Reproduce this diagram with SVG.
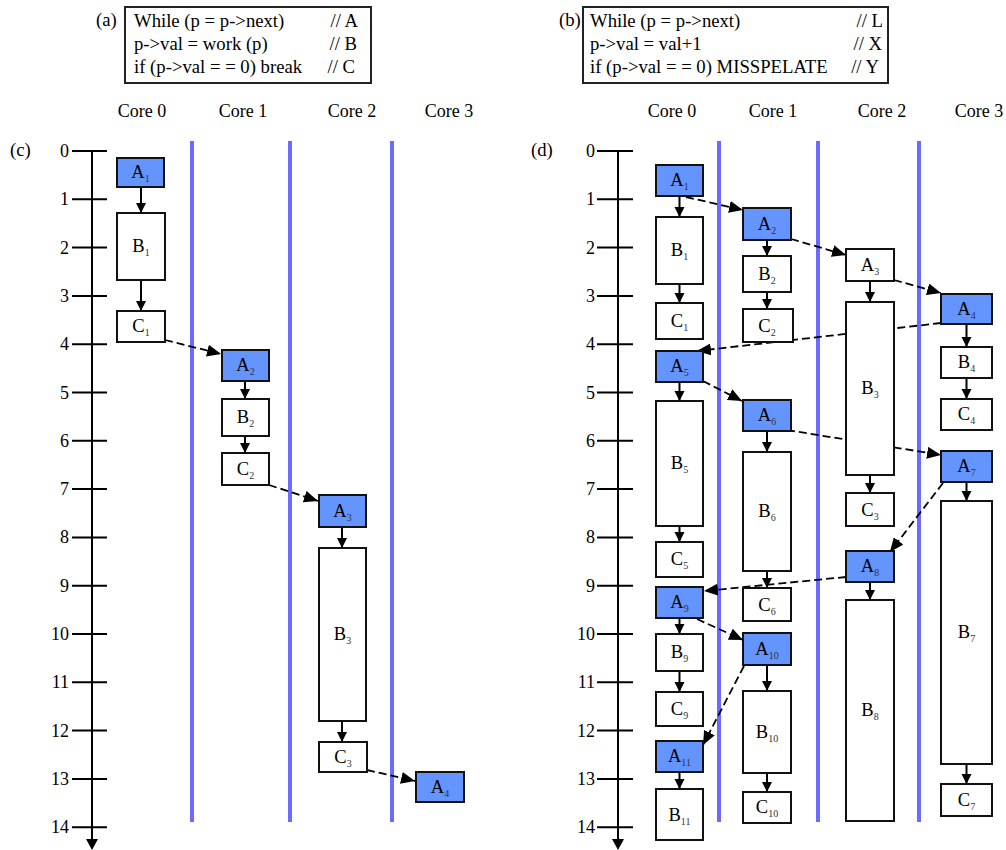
<svg xmlns="http://www.w3.org/2000/svg" width="1006" height="850" viewBox="0 0 1006 850" font-family="Liberation Serif, Times New Roman, DejaVu Serif, serif">
<style>
text, tspan{font-family:'Liberation Serif','Times New Roman','DejaVu Serif',serif;fill:#000}
.code{font-size:18.7px}
.hdr{font-size:18px;text-anchor:middle}
.num{font-size:18px;text-anchor:end}
.lbl{font-size:18.5px;text-anchor:middle}
.sub{font-size:10px;fill:#333}
.box{fill:#fff;stroke:#111;stroke-width:2}
.blue{fill:#6495ff;stroke:#111;stroke-width:2}
.wbox{fill:#fff;stroke:#111;stroke-width:2}
.core{stroke:#6b6bff;stroke-width:4}
.axis{stroke:#000;stroke-width:2;fill:none}
.sol{stroke:#000;stroke-width:2;fill:none}
.dash{stroke:#000;stroke-width:1.8;fill:none;stroke-dasharray:8,4}
</style>
<defs>
<marker id="ah" markerUnits="userSpaceOnUse" markerWidth="11" markerHeight="11" refX="10" refY="5" orient="auto"><path d="M0,0 L10,5 L0,10 z" fill="#000"/></marker>
<marker id="ahd" markerUnits="userSpaceOnUse" markerWidth="15" markerHeight="12" refX="14" refY="6" orient="auto"><path d="M0,0 L14,6 L0,12 z" fill="#000"/></marker>
</defs>
<rect width="1006" height="850" fill="#fff"/>

<g id="code-a">
<text class="code" x="96" y="26">(a)</text>
<rect x="125" y="7" width="246" height="76" fill="none" stroke="#222" stroke-width="2"/>
<text class="code" x="134" y="27">While (p = p-&gt;next)</text>
<text class="code" x="358" y="27" text-anchor="end">// A</text>
<text class="code" x="134" y="50">p-&gt;val = work (p)</text>
<text class="code" x="357" y="50" text-anchor="end">// B</text>
<text class="code" x="134" y="73">if (p-&gt;val = = 0) break</text>
<text class="code" x="355" y="73" text-anchor="end">// C</text>
</g>
<g id="code-b">
<text class="code" x="559" y="26">(b)</text>
<rect x="583" y="7" width="305" height="76" fill="none" stroke="#222" stroke-width="2"/>
<text class="code" x="590" y="27">While (p = p-&gt;next)</text>
<text class="code" x="883" y="27" text-anchor="end">// L</text>
<text class="code" x="590" y="50">p-&gt;val = val+1</text>
<text class="code" x="882" y="50" text-anchor="end">// X</text>
<text class="code" x="590" y="73">if (p-&gt;val = = 0) MISSPELATE</text>
<text class="code" x="879" y="73" text-anchor="end">// Y</text>
</g>

<g id="headers">
<text class="hdr" x="142" y="117">Core 0</text>
<text class="hdr" x="243" y="117">Core 1</text>
<text class="hdr" x="352" y="117">Core 2</text>
<text class="hdr" x="449" y="117">Core 3</text>
<text class="hdr" x="672" y="117">Core 0</text>
<text class="hdr" x="773" y="117">Core 1</text>
<text class="hdr" x="882" y="117">Core 2</text>
<text class="hdr" x="979" y="117">Core 3</text>
<text class="code" x="10" y="156">(c)</text>
<text class="code" x="531" y="156">(d)</text>
</g>

<g id="core-lines">
<line class="core" x1="192" y1="141" x2="192" y2="822"/>
<line class="core" x1="290" y1="141" x2="290" y2="822"/>
<line class="core" x1="392" y1="141" x2="392" y2="822"/>
<line class="core" x1="719" y1="141" x2="719" y2="822"/>
<line class="core" x1="818" y1="141" x2="818" y2="822"/>
<line class="core" x1="919" y1="141" x2="919" y2="822"/>
</g>

<g id="axis-c">
<line class="axis" x1="92" y1="151" x2="92" y2="841"/>
<path d="M86,839 L98,839 L92,850 z" fill="#000"/>
<path class="axis" d="M72,151H107M72,199.3H107M72,247.6H107M72,295.9H107M72,344.2H107M72,392.5H107M72,440.8H107M72,489.1H107M72,537.4H107M72,585.7H107M72,634H107M72,682.3H107M72,730.6H107M72,778.9H107M72,827.2H107"/>
<text class="num" x="69" y="157">0</text>
<text class="num" x="69" y="205">1</text>
<text class="num" x="69" y="254">2</text>
<text class="num" x="69" y="302">3</text>
<text class="num" x="69" y="350">4</text>
<text class="num" x="69" y="399">5</text>
<text class="num" x="69" y="447">6</text>
<text class="num" x="69" y="495">7</text>
<text class="num" x="69" y="543">8</text>
<text class="num" x="69" y="592">9</text>
<text class="num" x="69" y="640">10</text>
<text class="num" x="69" y="688">11</text>
<text class="num" x="69" y="737">12</text>
<text class="num" x="69" y="785">13</text>
<text class="num" x="69" y="833">14</text>
</g>

<g id="axis-d">
<line class="axis" x1="618" y1="151" x2="618" y2="841"/>
<path d="M612,839 L624,839 L618,850 z" fill="#000"/>
<path class="axis" d="M597,151H633M597,199.3H633M597,247.6H633M597,295.9H633M597,344.2H633M597,392.5H633M597,440.8H633M597,489.1H633M597,537.4H633M597,585.7H633M597,634H633M597,682.3H633M597,730.6H633M597,778.9H633M597,827.2H633"/>
<text class="num" x="595" y="157">0</text>
<text class="num" x="595" y="205">1</text>
<text class="num" x="595" y="254">2</text>
<text class="num" x="595" y="302">3</text>
<text class="num" x="595" y="350">4</text>
<text class="num" x="595" y="399">5</text>
<text class="num" x="595" y="447">6</text>
<text class="num" x="595" y="495">7</text>
<text class="num" x="595" y="543">8</text>
<text class="num" x="595" y="592">9</text>
<text class="num" x="595" y="640">10</text>
<text class="num" x="595" y="688">11</text>
<text class="num" x="595" y="737">12</text>
<text class="num" x="595" y="785">13</text>
<text class="num" x="595" y="833">14</text>
</g>

<g id="connectors">
<line class="sol" x1="141" y1="187" x2="141" y2="213" marker-end="url(#ah)"/>
<line class="sol" x1="141" y1="280" x2="141" y2="311" marker-end="url(#ah)"/>
<line class="sol" x1="245" y1="381" x2="245" y2="399" marker-end="url(#ah)"/>
<line class="sol" x1="245" y1="436" x2="245" y2="453" marker-end="url(#ah)"/>
<line class="sol" x1="342" y1="527" x2="342" y2="548" marker-end="url(#ah)"/>
<line class="sol" x1="342" y1="721" x2="342" y2="742" marker-end="url(#ah)"/>
<line class="dash" x1="165" y1="340" x2="221" y2="354" marker-end="url(#ahd)"/>
<line class="dash" x1="269" y1="485" x2="318" y2="501" marker-end="url(#ahd)"/>
<line class="dash" x1="367" y1="770" x2="415" y2="781" marker-end="url(#ahd)"/>
<line class="sol" x1="679.5" y1="196" x2="679.5" y2="217" marker-end="url(#ah)"/>
<line class="sol" x1="679.5" y1="284" x2="679.5" y2="303" marker-end="url(#ah)"/>
<line class="sol" x1="767" y1="240" x2="767" y2="256" marker-end="url(#ah)"/>
<line class="sol" x1="767" y1="292" x2="767" y2="309" marker-end="url(#ah)"/>
<line class="sol" x1="870" y1="281" x2="870" y2="302" marker-end="url(#ah)"/>
<line class="sol" x1="870" y1="475" x2="870" y2="493" marker-end="url(#ah)"/>
<line class="sol" x1="966.5" y1="324" x2="966.5" y2="347" marker-end="url(#ah)"/>
<line class="sol" x1="966.5" y1="378" x2="966.5" y2="399" marker-end="url(#ah)"/>
<line class="sol" x1="679.5" y1="382" x2="679.5" y2="401" marker-end="url(#ah)"/>
<line class="sol" x1="679.5" y1="526" x2="679.5" y2="542" marker-end="url(#ah)"/>
<line class="sol" x1="767" y1="431" x2="767" y2="452" marker-end="url(#ah)"/>
<line class="sol" x1="767" y1="571" x2="767" y2="588" marker-end="url(#ah)"/>
<line class="sol" x1="966.5" y1="482" x2="966.5" y2="501" marker-end="url(#ah)"/>
<line class="sol" x1="966.5" y1="764" x2="966.5" y2="784" marker-end="url(#ah)"/>
<line class="sol" x1="870" y1="582" x2="870" y2="600" marker-end="url(#ah)"/>
<line class="sol" x1="679.5" y1="618" x2="679.5" y2="634" marker-end="url(#ah)"/>
<line class="sol" x1="679.5" y1="671" x2="679.5" y2="692" marker-end="url(#ah)"/>
<line class="sol" x1="767" y1="665" x2="767" y2="691" marker-end="url(#ah)"/>
<line class="sol" x1="767" y1="773" x2="767" y2="792" marker-end="url(#ah)"/>
<line class="sol" x1="679.5" y1="772" x2="679.5" y2="789" marker-end="url(#ah)"/>
<line class="dash" x1="686" y1="197" x2="743" y2="210" marker-end="url(#ahd)"/>
<line class="dash" x1="791" y1="239" x2="846" y2="255" marker-end="url(#ahd)"/>
<line class="dash" x1="894" y1="280" x2="941" y2="293" marker-end="url(#ahd)"/>
<line class="dash" x1="941" y1="323" x2="697" y2="351" marker-end="url(#ahd)"/>
<line class="dash" x1="703" y1="381" x2="742" y2="401" marker-end="url(#ahd)"/>
<line class="dash" x1="787" y1="430" x2="941" y2="455" marker-end="url(#ahd)"/>
<line class="dash" x1="943" y1="483" x2="890" y2="552" marker-end="url(#ahd)"/>
<line class="dash" x1="846" y1="577" x2="704" y2="591" marker-end="url(#ahd)"/>
<line class="dash" x1="697" y1="619" x2="743" y2="640" marker-end="url(#ahd)"/>
<line class="dash" x1="744" y1="666" x2="703" y2="745" marker-end="url(#ahd)"/>
</g>

<g id="c-A1"><rect class="blue" x="117" y="158" width="47" height="29"/><text class="lbl" x="140.5" y="178">A<tspan class="sub" dy="4">1</tspan></text></g>
<g id="c-B1"><rect class="box" x="117" y="213" width="48" height="67"/><text class="lbl" x="141" y="252">B<tspan class="sub" dy="4">1</tspan></text></g>
<g id="c-C1"><rect class="box" x="117" y="311" width="48" height="31"/><text class="lbl" x="141" y="332">C<tspan class="sub" dy="4">1</tspan></text></g>
<g id="c-A2"><rect class="blue" x="222" y="350" width="47" height="31"/><text class="lbl" x="245.5" y="371">A<tspan class="sub" dy="4">2</tspan></text></g>
<g id="c-B2"><rect class="box" x="222" y="399" width="47" height="37"/><text class="lbl" x="245.5" y="423">B<tspan class="sub" dy="4">2</tspan></text></g>
<g id="c-C2"><rect class="box" x="222" y="453" width="47" height="32"/><text class="lbl" x="245.5" y="475">C<tspan class="sub" dy="4">2</tspan></text></g>
<g id="c-A3"><rect class="blue" x="319" y="495" width="47" height="32"/><text class="lbl" x="342.5" y="517">A<tspan class="sub" dy="4">3</tspan></text></g>
<g id="c-B3"><rect class="box" x="319" y="548" width="47" height="173"/><text class="lbl" x="342.5" y="640">B<tspan class="sub" dy="4">3</tspan></text></g>
<g id="c-C3"><rect class="box" x="319" y="742" width="48" height="30"/><text class="lbl" x="343" y="763">C<tspan class="sub" dy="4">3</tspan></text></g>
<g id="c-A4"><rect class="blue" x="416" y="772" width="48" height="30"/><text class="lbl" x="440" y="793">A<tspan class="sub" dy="4">4</tspan></text></g>

<g id="d-A1"><rect class="blue" x="656" y="165" width="47" height="31"/><text class="lbl" x="679.5" y="186">A<tspan class="sub" dy="4">1</tspan></text></g>
<g id="d-B1"><rect class="box" x="656" y="217" width="47" height="67"/><text class="lbl" x="679.5" y="256">B<tspan class="sub" dy="4">1</tspan></text></g>
<g id="d-C1"><rect class="box" x="656" y="303" width="47" height="36"/><text class="lbl" x="679.5" y="327">C<tspan class="sub" dy="4">1</tspan></text></g>
<g id="d-A2"><rect class="blue" x="743" y="208" width="48" height="32"/><text class="lbl" x="767" y="230">A<tspan class="sub" dy="4">2</tspan></text></g>
<g id="d-B2"><rect class="box" x="743" y="256" width="48" height="36"/><text class="lbl" x="767" y="280">B<tspan class="sub" dy="4">2</tspan></text></g>
<g id="d-C2"><rect class="box" x="743" y="309" width="50" height="33"/><text class="lbl" x="767" y="332">C<tspan class="sub" dy="4">2</tspan></text></g>
<g id="d-A3"><rect class="wbox" x="846" y="249" width="48" height="32"/><text class="lbl" x="870" y="271">A<tspan class="sub" dy="4">3</tspan></text></g>
<g id="d-B3"><rect class="box" x="846" y="302" width="48" height="173"/><text class="lbl" x="870" y="394">B<tspan class="sub" dy="4">3</tspan></text></g>
<g id="d-C3"><rect class="box" x="846" y="493" width="48" height="33"/><text class="lbl" x="870" y="516">C<tspan class="sub" dy="4">3</tspan></text></g>
<g id="d-A4"><rect class="blue" x="941" y="294" width="51" height="30"/><text class="lbl" x="966.5" y="315">A<tspan class="sub" dy="4">4</tspan></text></g>
<g id="d-B4"><rect class="box" x="941" y="347" width="51" height="31"/><text class="lbl" x="966.5" y="368">B<tspan class="sub" dy="4">4</tspan></text></g>
<g id="d-C4"><rect class="box" x="941" y="399" width="51" height="31"/><text class="lbl" x="966.5" y="420">C<tspan class="sub" dy="4">4</tspan></text></g>
<g id="d-A5"><rect class="blue" x="656" y="351" width="47" height="31"/><text class="lbl" x="679.5" y="372">A<tspan class="sub" dy="4">5</tspan></text></g>
<g id="d-B5"><rect class="box" x="656" y="401" width="47" height="125"/><text class="lbl" x="679.5" y="469">B<tspan class="sub" dy="4">5</tspan></text></g>
<g id="d-C5"><rect class="box" x="656" y="542" width="47" height="35"/><text class="lbl" x="679.5" y="565">C<tspan class="sub" dy="4">5</tspan></text></g>
<g id="d-A6"><rect class="blue" x="743" y="400" width="48" height="31"/><text class="lbl" x="767" y="421">A<tspan class="sub" dy="4">6</tspan></text></g>
<g id="d-B6"><rect class="box" x="743" y="452" width="48" height="119"/><text class="lbl" x="767" y="517">B<tspan class="sub" dy="4">6</tspan></text></g>
<g id="d-C6"><rect class="box" x="743" y="588" width="48" height="33"/><text class="lbl" x="767" y="611">C<tspan class="sub" dy="4">6</tspan></text></g>
<g id="d-A7"><rect class="blue" x="941" y="451" width="51" height="31"/><text class="lbl" x="966.5" y="472">A<tspan class="sub" dy="4">7</tspan></text></g>
<g id="d-B7"><rect class="box" x="941" y="501" width="51" height="263"/><text class="lbl" x="966.5" y="638">B<tspan class="sub" dy="4">7</tspan></text></g>
<g id="d-C7"><rect class="box" x="941" y="784" width="51" height="32"/><text class="lbl" x="966.5" y="806">C<tspan class="sub" dy="4">7</tspan></text></g>
<g id="d-A8"><rect class="blue" x="846" y="551" width="48" height="31"/><text class="lbl" x="870" y="572">A<tspan class="sub" dy="4">8</tspan></text></g>
<g id="d-B8"><rect class="box" x="846" y="600" width="48" height="221"/><text class="lbl" x="870" y="716">B<tspan class="sub" dy="4">8</tspan></text></g>
<g id="d-A9"><rect class="blue" x="656" y="587" width="47" height="31"/><text class="lbl" x="679.5" y="608">A<tspan class="sub" dy="4">9</tspan></text></g>
<g id="d-B9"><rect class="box" x="656" y="634" width="47" height="37"/><text class="lbl" x="679.5" y="658">B<tspan class="sub" dy="4">9</tspan></text></g>
<g id="d-C9"><rect class="box" x="656" y="692" width="47" height="34"/><text class="lbl" x="679.5" y="715">C<tspan class="sub" dy="4">9</tspan></text></g>
<g id="d-A10"><rect class="blue" x="743" y="633" width="48" height="32"/><text class="lbl" x="767" y="655">A<tspan class="sub" dy="4">10</tspan></text></g>
<g id="d-B10"><rect class="box" x="743" y="691" width="48" height="82"/><text class="lbl" x="767" y="738">B<tspan class="sub" dy="4">10</tspan></text></g>
<g id="d-C10"><rect class="box" x="743" y="792" width="48" height="31"/><text class="lbl" x="767" y="813">C<tspan class="sub" dy="4">10</tspan></text></g>
<g id="d-A11"><rect class="blue" x="656" y="741" width="47" height="31"/><text class="lbl" x="679.5" y="762">A<tspan class="sub" dy="4">11</tspan></text></g>
<g id="d-B11"><rect class="box" x="656" y="789" width="47" height="51"/><text class="lbl" x="679.5" y="821">B<tspan class="sub" dy="4">11</tspan></text></g>
</svg>
